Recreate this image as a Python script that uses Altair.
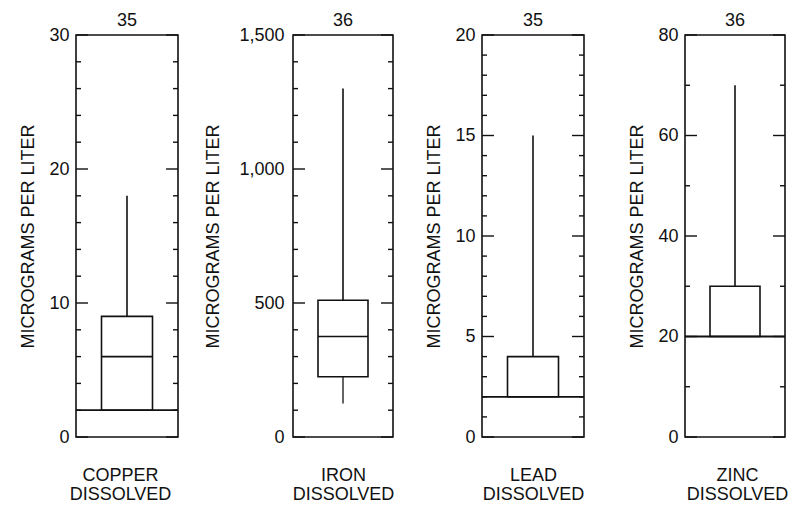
import altair as alt
import numpy as np
import pandas as pd

# Dissolved trace-metal concentrations, micrograms per liter
elements = ["COPPER", "IRON", "LEAD", "ZINC"]
sample_counts = [35, 36, 35, 36]
axis_max = [30, 1500, 20, 80]
labeled_ticks = [
    [0, 10, 20, 30],
    [0, 500, 1000, 1500],
    [0, 5, 10, 15, 20],
    [0, 20, 40, 60, 80],
]
minor_tick_step = [2, 100, 1, 10]

# Box-plot statistics (None where the value falls below the reporting level)
whisker_low = [None, 125, None, None]
box_low = [2, 225, 2, 20]
median = [6, 375, None, None]
box_high = [9, 510, 4, 30]
whisker_high = [18, 1300, 15, 70]
reporting_level = [2, None, 2, 20]

FONT = "Liberation Sans"
INK = "#111111"
PANEL_WIDTHS = [102, 100, 102, 100]
TITLE_X = [-48, -80, -48, -48]
LABEL_PAD = [7, 9, 7, 7]
NAME_SHIFT = [-7, 0, 0, 2]
H = 402
MINOR_LEN = 5
MAJOR_LEN = 12


def panel(i):
    w = PANEL_WIDTHS[i]
    yscale = alt.Scale(domain=[0, axis_max[i]], nice=False, zero=True)
    xscale = alt.Scale(domain=[0, 1], nice=False, zero=False)

    # one axis definition per channel, shared by every layer so they merge
    yaxis = alt.Axis(
        values=labeled_ticks[i], format=",.0f", ticks=False, tickSize=0,
        domain=False, grid=False, labelPadding=LABEL_PAD[i], labelFlush=False,
        labelFontSize=18, labelFont=FONT, labelColor=INK,
        title="MICROGRAMS PER LITER", titleFontSize=18, titleFont=FONT,
        titleFontWeight="normal", titleColor=INK, titleAngle=270,
        titleX=TITLE_X[i], titleY=H / 2, titleAlign="center",
        titleBaseline="middle",
    )
    xaxis = alt.Axis(
        title=[elements[i], "DISSOLVED"], labels=False, ticks=False,
        domain=False, grid=False, titleX=w / 2 + NAME_SHIFT[i], titleY=29,
        titleAlign="center", titleBaseline="top",
        titleLineHeight=19, titleFontSize=18, titleFont=FONT,
        titleFontWeight="normal", titleColor=INK,
    )

    def yenc(field):
        return alt.Y(field, scale=yscale, axis=yaxis)

    def xdatum(v):
        return alt.XDatum(v, type="quantitative", scale=xscale, axis=xaxis)

    stats = pd.DataFrame([{
        "lo": whisker_low[i], "q1": box_low[i], "med": median[i],
        "q3": box_high[i], "hi": whisker_high[i], "rl": reporting_level[i],
    }])

    major = labeled_ticks[i]
    minor = [v for v in np.arange(0, axis_max[i] + 1e-9, minor_tick_step[i]).tolist()
             if v not in major]
    minor_df = pd.DataFrame({"v": minor})
    major_df = pd.DataFrame({"v": major})

    def tick_layers(df, length):
        left = alt.Chart(df).mark_rule(color=INK, strokeWidth=1.4).encode(
            y=yenc("v:Q"), x=alt.value(0), x2=alt.value(length),
        )
        right = alt.Chart(df).mark_rule(color=INK, strokeWidth=1.4).encode(
            y=yenc("v:Q"), x=alt.value(w), x2=alt.value(w - length),
        )
        return [left, right]

    base = alt.Chart(stats)

    box = base.mark_rect(fill="white", stroke=INK, strokeWidth=1.6).encode(
        x=xdatum(0.25), x2=alt.X2Datum(0.75),
        y=yenc("q1:Q"), y2="q3:Q",
    )

    layers = tick_layers(minor_df, MINOR_LEN) + tick_layers(major_df, MAJOR_LEN) + [box]

    layers.append(base.mark_rule(color=INK, strokeWidth=1.6).encode(
        x=xdatum(0.5), y=yenc("q3:Q"), y2="hi:Q",
    ))
    if whisker_low[i] is not None:
        layers.append(base.mark_rule(color=INK, strokeWidth=1.3).encode(
            x=xdatum(0.5), y=yenc("lo:Q"), y2="q1:Q",
        ))
    if median[i] is not None:
        layers.append(base.mark_rule(color=INK, strokeWidth=1.6).encode(
            x=xdatum(0.25), x2=alt.X2Datum(0.75), y=yenc("med:Q"),
        ))
    if reporting_level[i] is not None:
        layers.append(base.mark_rule(color=INK, strokeWidth=1.8).encode(
            x=xdatum(0), x2=alt.X2Datum(1), y=yenc("rl:Q"),
        ))

    return alt.layer(*layers).properties(
        width=w, height=H,
        title=alt.TitleParams(
            text=str(sample_counts[i]), fontSize=18, font=FONT,
            fontWeight="normal", color=INK, anchor="middle", offset=-4,
        ),
    )


left_pair = alt.hconcat(panel(0), panel(1), spacing=23)
right_pair = alt.hconcat(panel(2), panel(3), spacing=41)

chart = (
    alt.hconcat(left_pair, right_pair, spacing=29)
    .properties(padding={"left": 18, "top": 11, "right": 0, "bottom": 0},
                background="white")
    .configure_view(stroke=INK, strokeWidth=1.6)
    .configure_axis(grid=False)
)

chart.save("out.html", embed_options={"renderer": "svg", "actions": False})
